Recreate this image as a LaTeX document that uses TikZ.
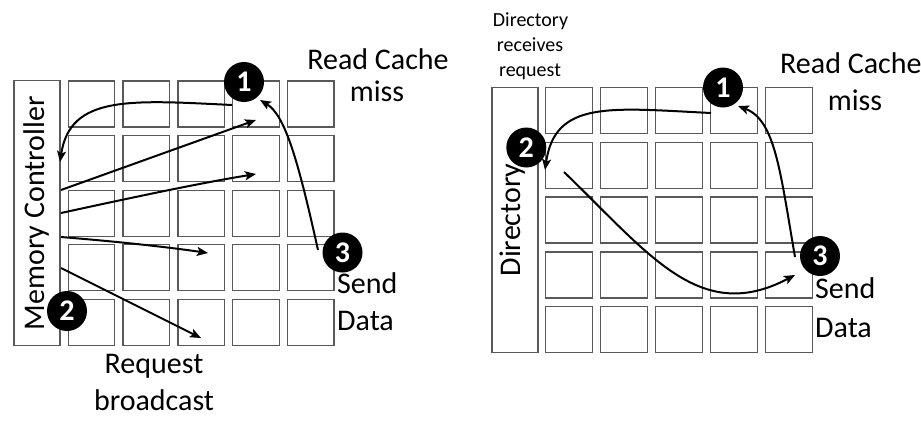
\documentclass[tikz,border=0pt]{standalone}
\usepackage{fontspec}
\setmainfont{Carlito}
\usetikzlibrary{arrows.meta}
\begin{document}
\begin{tikzpicture}[x=1pt,y=-1pt,
  cell/.style={draw=black!65,line width=1.3pt,minimum width=46.5pt,minimum height=46pt,inner sep=0pt},
  ctrl/.style={draw=black!65,line width=1.3pt,minimum width=46pt,minimum height=265pt,inner sep=0pt},
  num/.style={circle,fill=black,text=white,minimum size=40pt,inner sep=0pt,font=\fontsize{30}{30}\selectfont\bfseries},
  lbl/.style={font=\fontsize{30}{37}\selectfont,inner sep=0pt},
  small/.style={font=\fontsize{20}{25}\selectfont,inner sep=0pt},
  arr/.style={line width=2pt,-{Stealth[length=11pt,width=9pt,inset=2.5pt]}}
]
\useasboundingbox (0,0) rectangle (921,424);
\fill[white] (0,0) rectangle (921,424);

% ---------- left grid ----------
\foreach \r in {0,...,4}{
  \foreach \c in {0,...,4}{
    \pgfmathsetmacro{\xx}{91.5+54.8*\c}
    \pgfmathsetmacro{\yy}{104+54.6*\r}
    \node[cell] (L-\r-\c) at (\xx,\yy) {};
  }
}
\node[ctrl] (mc) at (37,213.3) {};
\node[lbl,rotate=90] (mctext) at (37,213.3) {Memory Controller};

% ---------- right grid ----------
\foreach \r in {0,...,4}{
  \foreach \c in {0,...,4}{
    \pgfmathsetmacro{\xx}{569+55*\c}
    \pgfmathsetmacro{\yy}{110.3+54.85*\r}
    \node[cell] (R-\r-\c) at (\xx,\yy) {};
  }
}
\node[ctrl] (dir) at (515,220) {};
\node[lbl,rotate=90] (dirtext) at (513,220) {Directory};

% ---------- arrow end points ----------
\coordinate (a1s) at (232,105);  \coordinate (a1e) at (60,162);
\coordinate (a2s) at (61,190);   \coordinate (a2e) at (256,120);
\coordinate (a3s) at (61,213);   \coordinate (a3e) at (256,174);
\coordinate (a4s) at (61,237);   \coordinate (a4e) at (208,253);
\coordinate (a5s) at (61,268);   \coordinate (a5e) at (201,338);
\coordinate (a6s) at (318,250);  \coordinate (a6e) at (260,100);

\coordinate (b1s) at (711,113);  \coordinate (b1e) at (545,170);
\coordinate (b2s) at (564,172);  \coordinate (b2e) at (795,275);
\coordinate (b3s) at (795,257);  \coordinate (b3e) at (738,106);

% ---------- left arrows ----------
\draw[arr] (a1s) .. controls (130,100) and (70,95) .. (a1e);
\draw[arr] (a2s) -- (a2e);
\draw[arr] (a3s) .. controls (130,198) and (200,183) .. (a3e);
\draw[arr] (a4s) .. controls (110,241) and (160,246) .. (a4e);
\draw[arr] (a5s) -- (a5e);
\draw[arr] (a6s) .. controls (298,160) and (285,115) .. (a6e);

% ---------- right arrows ----------
\draw[arr] (b1s) .. controls (610,108) and (555,100) .. (b1e);
\draw[arr] (b2s) .. controls (650,255) and (700,325) .. (b2e);
\draw[arr] (b3s) .. controls (780,170) and (775,120) .. (b3e);

% ---------- numbered circles ----------
\node[num] (L1) at (244,82) {1};
\node[num] (L2) at (67,311) {2};
\node[num] (L3) at (342.5,252.5) {3};
\node[num] (R1) at (723,87.5) {1};
\node[num] (R2) at (526.3,147.5) {2};
\node[num] (R3) at (820,256) {3};

% ---------- labels ----------
\node[lbl,anchor=base] (lrc) at (378,69) {Read Cache};
\node[lbl,anchor=base] (lmiss) at (377,101) {miss};
\node[lbl,anchor=base west] (lsend) at (337,293) {Send};
\node[lbl,anchor=base west] (ldata) at (337,330) {Data};
\node[lbl,anchor=base] (lreq) at (154,373) {Request};
\node[lbl,anchor=base] (lbc) at (154,410) {broadcast};

\node[small,anchor=base] (rdir) at (530.5,26.7) {Directory};
\node[small,anchor=base] (rrec) at (530,51.7) {receives};
\node[small,anchor=base] (rreq) at (530,76.7) {request};
\node[lbl,anchor=base west] (rrc) at (780,73) {Read Cache};
\node[lbl,anchor=base] (rmiss) at (855,110) {miss};
\node[lbl,anchor=base west] (rsend) at (815,298) {Send};
\node[lbl,anchor=base west] (rdata) at (815,337) {Data};
\end{tikzpicture}
\end{document}
